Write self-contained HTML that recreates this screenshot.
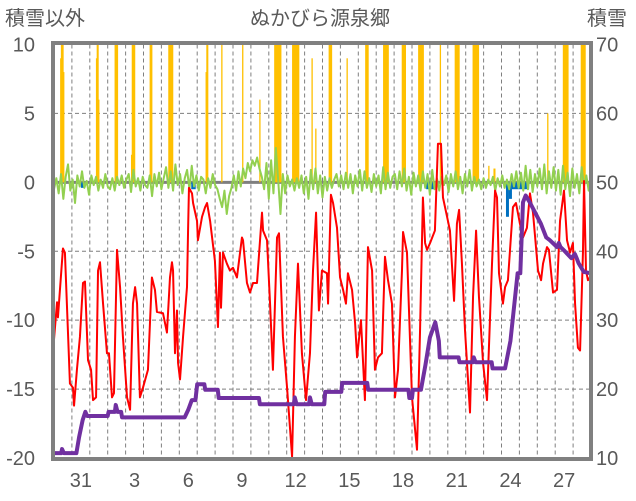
<!DOCTYPE html>
<html><head><meta charset="utf-8">
<style>
html,body{margin:0;padding:0;background:#fff;}
svg{display:block;font-family:"Liberation Sans","Noto Sans CJK JP",sans-serif;}
</style></head>
<body>
<svg id="chart" width="636" height="501" viewBox="0 0 636 501" xmlns="http://www.w3.org/2000/svg">
<text x="5" y="25" font-size="20" fill="#595959">積雪以外</text>
<text x="320" y="25" font-size="20" fill="#595959" text-anchor="middle">ぬかびら源泉郷</text>
<text x="587" y="25" font-size="20" fill="#595959">積雪</text>
<g id="grid"></g>
<g id="marks"></g>
<g id="axes"></g>
</svg>
<script>
const leftTicks = [10,5,0,-5,-10,-15,-20];
const rightTicks = [70,60,50,40,30,20,10];
const dayLabels = ["31","3","6","9","12","15","18","21","24","27"];
const dayLabelIdx = [1,4,7,10,13,16,19,22,25,28];
const nDays = 30;

const tempT = [0,0.17,0.22,0.5,0.61,0.89,1.06,1.12,1.28,1.45,1.62,1.73,1.9,2.07,2.18,2.35,2.46,2.57,2.74,2.96,3.07,3.24,3.35,3.52,3.69,3.85,4.08,4.25,4.41,4.53,4.64,4.8,4.97,5.25,5.47,5.64,5.75,6.09,6.31,6.48,6.59,6.65,6.76,6.87,6.93,7.04,7.21,7.43,7.49,7.54,7.71,7.77,7.99,8.04,8.27,8.44,8.55,8.72,8.99,9.16,9.27,9.33,9.44,9.66,9.83,10.0,10.22,10.5,10.56,10.78,10.95,11.12,11.34,11.62,11.68,11.9,12.07,12.23,12.46,12.57,12.79,13.02,13.3,13.46,13.63,13.85,14.08,14.3,14.47,14.64,14.8,14.97,15.25,15.31,15.47,15.59,15.81,15.98,16.15,16.31,16.42,16.65,16.82,16.93,17.15,17.37,17.54,17.77,17.93,18.1,18.32,18.49,18.66,18.88,19.05,19.22,19.44,19.5,19.72,20.0,20.28,20.45,20.61,20.73,20.84,21.01,21.28,21.45,21.62,21.73,21.96,22.12,22.35,22.51,22.63,22.79,22.96,23.24,23.41,23.58,23.74,23.97,24.19,24.47,24.64,24.75,24.86,25.08,25.2,25.36,25.64,25.81,26.03,26.2,26.42,26.59,26.76,27.04,27.21,27.32,27.54,27.65,27.88,28.1,28.27,28.49,28.66,28.83,28.99,29.11,29.27,29.39,29.55,29.61,29.72,29.83,29.94];
const tempV = [-11.4,-8.7,-9.8,-4.8,-5.1,-14.6,-14.9,-16.2,-13.6,-11.2,-7.3,-7.2,-12.9,-13.6,-15.8,-15.6,-6.4,-5.8,-8.8,-12.4,-12.4,-15.6,-15.3,-4.9,-7.6,-11.2,-15.6,-16.5,-8.8,-7.6,-8.8,-15.6,-14.9,-13.6,-6.9,-7.8,-9.4,-9.5,-10.9,-6.9,-5.8,-6.4,-12.4,-9.3,-13.1,-14.3,-11.2,-7.6,-3.5,-0.4,-0.8,-1.5,-2.8,-4.2,-2.5,-1.8,-1.5,-2.8,-5.7,-10.5,-5.1,-9.1,-5.1,-5.9,-6.4,-6.2,-6.9,-4.0,-4.2,-7.3,-8.0,-7.3,-7.3,-2.2,-3.5,-4.2,-8.8,-13.6,-4.0,-3.7,-11.2,-14.9,-19.9,-11.2,-5.9,-12.4,-15.8,-12.4,-6.4,-2.2,-9.3,-6.4,-6.6,-8.8,-0.9,-1.5,-3.3,-6.9,-7.8,-8.8,-6.6,-7.8,-10.2,-12.7,-10.0,-15.8,-4.7,-6.4,-13.6,-12.7,-12.4,-5.4,-7.1,-8.8,-15.6,-13.6,-6.4,-3.6,-5.1,-15.6,-19.4,-10.7,-1.1,-4.4,-4.9,-4.4,-3.5,2.8,2.8,-1.1,-2.5,-3.5,-8.6,-3.0,-2.0,-5.9,-10.7,-16.7,-8.3,-3.5,-8.3,-13.1,-15.8,-5.9,-0.6,-1.1,-6.6,-8.8,-7.6,-7.1,-1.8,-1.5,-3.0,-4.0,-3.3,-0.8,-2.2,-6.4,-7.1,-5.9,-4.7,-4.9,-8.0,-7.8,-2.8,-0.6,-4.2,-5.1,-4.4,-8.8,-12.0,-12.2,-5.1,0.1,-6.4,-7.1,-6.9];

const snowT = [0,0.4,0.45,0.55,1.25,1.4,1.6,1.75,1.85,3.0,3.05,3.4,3.45,3.55,3.75,3.8,7.3,7.5,7.7,7.9,8.0,8.4,8.45,9.15,9.2,11.45,11.5,13.4,13.45,13.55,14.25,14.3,14.4,15.1,15.15,16.05,16.1,17.5,17.55,19.8,19.85,20.0,20.05,20.5,20.75,21.0,21.3,21.5,21.55,22.6,22.65,23.4,23.45,23.55,24.45,24.5,25.2,25.5,25.9,26.05,26.2,26.35,26.6,26.9,27.2,27.5,27.7,28.1,28.2,28.3,28.5,28.9,29.1,29.2,29.3,29.6,30];
const snowV = [10.7,10.7,11.3,10.7,10.7,13,15.5,16.7,16.1,16.1,16.7,16.7,17.7,16.7,16.7,15.9,15.9,17.0,18.4,18.4,20.7,20.7,19.9,19.9,18.7,18.7,17.8,17.8,18.8,17.8,17.8,18.8,17.8,17.8,19.6,19.6,20.9,20.9,19.9,19.9,18.7,18.7,19.9,19.9,23.5,27.5,29.7,27,24.6,24.6,23.9,23.9,24.6,23.9,23.9,23.0,23.0,27,36.8,36.8,47.1,48.1,47,45.5,44,42,41.6,40.6,41.2,40.6,40.1,39,39.6,39,38.3,37,36.8];

const precipH = [9,10,11,12,13,57,58,59,60,82,83,84,85,104,105,106,107,108,129,130,131,154,155,156,157,158,159,204,205,206,225,253,276,296,297,298,299,300,301,302,303,304,320,321,322,323,324,325,326,327,328,346,351,369,370,371,372,393,418,419,420,421,442,443,444,445,446,447,448,467,468,469,470,471,489,490,491,492,493,494,495,518,538,539,540,541,542,543,562,563,564,565,566,567,568,569,583,590,591,662,683,684,685,686,687,688,689,707,708,709,710,711,712];
const precipV = [9,12,12,12,8,9,12,12,6,12,12,12,12,2,12,12,12,12,12,12,12,12,12,12,12,12,12,8,12,12,12,12,6,12,12,12,12,12,12,12,12,12,12,12,12,12,12,12,12,12,12,9,3.9,12,12,12,12,9,12,12,12,12,12,12,12,12,12,12,12,12,12,12,12,12,12,12,12,12,12,12,12,12,12,12,12,12,12,12,12,12,12,12,12,12,12,12,1.2,1,1,5,12,12,12,12,12,12,12,12,12,12,12,12,12];

const blueStartH = [36,184,499,606,610,614];
const blueEndH = [40,190,510,610,614,637];
const blueV = [-0.4,-0.5,-0.5,-2.5,-1.2,-0.5];

const windV = [-0.5,0.3,-0.8,0.6,-1.2,0.4,1.3,-0.6,0.2,-1.5,0.5,-0.3,0.8,-0.4,0.1,-0.9,0.5,-0.2,0.4,-0.6,0.2,-0.4,0.6,-0.3,-0.5,0.3,-0.6,0.4,-0.2,0.5,-0.4,0.2,0.6,-0.7,0.9,-0.3,0.3,-0.6,0.4,-0.2,-0.4,0.5,-1.0,0.6,-0.3,0.7,-0.5,0.3,1.1,-0.4,0.8,-0.6,1.3,-0.2,0.6,-0.8,0.3,0.9,-0.5,1.2,-0.3,0.5,-0.6,0.4,0.2,-0.8,0.3,-0.4,0.6,-0.2,-0.5,-1.2,-1.8,-0.6,-2.3,-1.0,-0.4,0.5,-0.6,0.8,-0.3,1.0,0.3,1.4,0.8,1.6,1.2,1.8,1.0,0.4,-0.5,1.4,-1.2,1.6,-0.8,2.5,0.2,-2.3,0.6,-0.8,0.5,-0.3,0.2,-0.6,0.3,-0.4,0.5,-0.8,0.4,-1.2,0.9,-0.5,1.0,-0.8,0.5,-1.1,0.4,-0.6,0.3,-0.4,0.2,0.6,-0.3,0.5,-0.5,0.7,-0.4,0.6,-0.8,0.5,-0.3,0.9,-0.6,0.8,-0.4,0.3,-0.7,0.6,-0.3,0.5,-0.8,1.1,-0.5,0.7,-0.4,0.4,0.6,-0.5,0.8,-0.3,1.0,-0.6,0.4,-0.9,0.7,-0.3,0.5,-0.6,0.8,-0.4,0.6,-0.9,0.9,-0.5,0.3,-0.6,0.4,-0.2,0.5,-0.7,0.6,-0.3,0.8,-0.5,0.4,-0.8,0.6,-0.3,0.9,-0.6,0.4,-0.3,0.2,-0.5,0.3,-0.4,0.2,-0.2,0.4,-0.6,0.3,-0.3,0.5,-0.4,0.2,-0.5,0.6,-0.3,0.8,-0.4,0.7,-0.6,1.2,-0.5,0.9,-0.7,0.6,-0.3,1.0,-0.5,1.3,-0.8,0.8,-0.4,1.1,-0.6,0.9,-0.9,1.2,-0.5,0.7,-1.0,1.0,-0.4,0.6,-0.8,1.1,-0.3,0.5,-0.6,0.8];

const NS = "http://www.w3.org/2000/svg";
const X0 = 54, X1 = 591, Y0 = 44.5, Y1 = 458;
const xDay = t => X0 + t * (X1 - X0) / nDays;
const xHour = h => xDay(h / 24);
const yL = v => Y0 + (10 - v) * (Y1 - Y0) / 30;
const yR = s => Y0 + (70 - s) * (Y1 - Y0) / 60;
const clampV = v => Math.max(-20, Math.min(10, v));

function mk(tag, attrs, parent) {
  const e = document.createElementNS(NS, tag);
  for (const k in attrs) e.setAttribute(k, attrs[k]);
  parent.appendChild(e);
  return e;
}
const grid = document.getElementById('grid');
const marks = document.getElementById('marks');
const axes = document.getElementById('axes');

leftTicks.forEach(v => {
  if (v === 10 || v === -20 || v === 0) return;
  const l = mk('line', {x1: X0, x2: X1, y1: yL(v), y2: yL(v), stroke: '#7f7f7f', 'stroke-width': 1, 'stroke-dasharray': '4 3'}, grid);
  
  
});
for (let d = 1; d < nDays; d++) {
  const l = mk('line', {x1: xDay(d), x2: xDay(d), y1: Y0, y2: Y1, stroke: '#7f7f7f', 'stroke-width': 1, 'stroke-dasharray': '4 3'}, grid);
  
  
}
const zl = mk('line', {x1: X0, x2: X1, y1: yL(0), y2: yL(0), stroke: '#7f7f7f', 'stroke-width': 3}, grid);



precipH.forEach((h, i) => {
  const v = clampV(precipV[i]);
  const r = mk('rect', {x: xHour(h) - 0.6, y: yL(v), width: 1.3, height: yL(0) - yL(v), fill: '#ffc000'}, marks);
  
  
});
blueStartH.forEach((h, i) => {
  const r = mk('rect', {x: xHour(h), y: yL(0), width: xHour(blueEndH[i]) - xHour(h), height: yL(blueV[i]) - yL(0), fill: '#0070c0'}, marks);
  
  
});
function line(ts, vs, yf, color, w, name) {
  const d = ts.map((t, i) => (i ? 'L' : 'M') + xDay(t).toFixed(2) + ' ' + yf(vs[i]).toFixed(2)).join(' ');
  const p = mk('path', {d: d, fill: 'none', stroke: color, 'stroke-width': w, 'stroke-linejoin': 'round'}, marks);
  
  
}
const windT = windV.map((v, i) => i * nDays / (windV.length - 1));
line(windT, windV, yL, '#92d050', 2, 'green-series-line');
line(tempT, tempV.map(clampV), yL, '#ff0000', 2, 'temperature-line');
line(snowT, snowV, yR, '#7030a0', 4, 'snow-depth-line');

const fr = mk('rect', {x: 53, y: 43, width: 538, height: 416, fill: 'none', stroke: '#808080', 'stroke-width': 4}, axes);


leftTicks.forEach(v => {
  const t = mk('text', {x: 35, y: yL(v) + 7, 'font-size': 20, fill: '#595959', 'text-anchor': 'end'}, axes);
  t.textContent = v;
  
  
});
rightTicks.forEach(s => {
  const t = mk('text', {x: 596, y: yR(s) + 7, 'font-size': 20, fill: '#595959'}, axes);
  t.textContent = s;
  
  
});
dayLabels.forEach((lab, i) => {
  const t = mk('text', {x: xDay(dayLabelIdx[i] + 0.5), y: 487, 'font-size': 20, fill: '#595959', 'text-anchor': 'middle'}, axes);
  t.textContent = lab;
  
  
});
</script>
</body></html>
